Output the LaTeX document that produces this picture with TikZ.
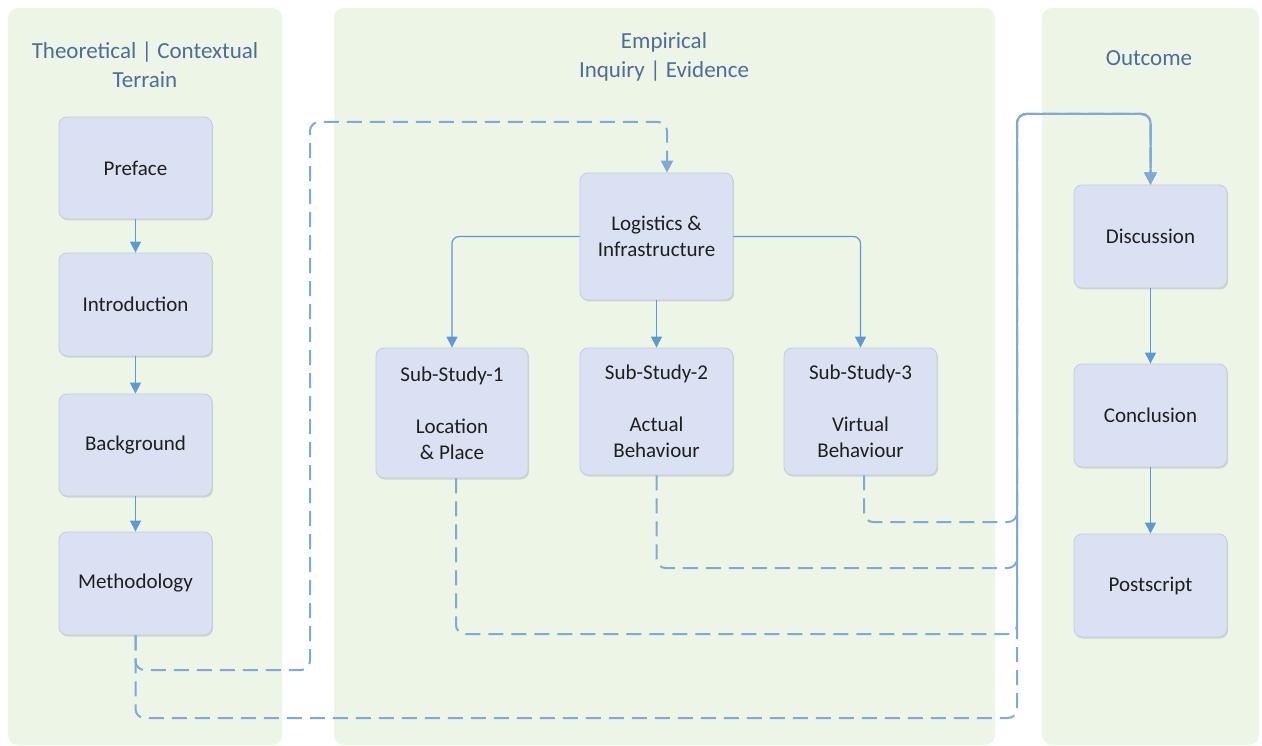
\documentclass[tikz,border=0pt]{standalone}
\usepackage{fontspec}
\setmainfont{Carlito}
\usetikzlibrary{arrows.meta,shadows}
\definecolor{panelfill}{HTML}{EDF5E7}
\definecolor{boxfill}{HTML}{DAE1F2}
\definecolor{boxline}{HTML}{C3CBDE}
\definecolor{titleblue}{HTML}{4E6D97}
\definecolor{linkblue}{HTML}{5B9BD5}
\definecolor{dashblue}{HTML}{7FA9D6}
\tikzset{
  panel/.style={fill=panelfill, draw=none, rounded corners=10pt},
  stage/.style={rectangle, rounded corners=8pt, fill=boxfill, draw=boxline, line width=0.8pt,
    align=center, font=\fontsize{21}{26}\selectfont, text=black!88,
    drop shadow={shadow xshift=1pt, shadow yshift=-1.5pt, opacity=0.12, fill=black}},
  heading/.style={align=center, font=\fontsize{23}{29}\selectfont, text=titleblue},
  flow/.style={draw=linkblue, line width=1.2pt, rounded corners=7pt,
    -{Triangle[length=11pt,width=11pt]}},
  feed/.style={draw=dashblue, line width=2pt, dash pattern=on 15pt off 8pt, rounded corners=9pt},
  feedarrow/.style={feed, -{Triangle[length=12pt,width=12pt]}}
}
\begin{document}
\begin{tikzpicture}[x=1pt,y=-1pt]
\useasboundingbox (0,0) rectangle (1262,746);
% column panels
\path[panel] (8,8) rectangle (282,745);
\path[panel] (334,8) rectangle (995,745);
\path[panel] (1042,8) rectangle (1259,745);

% column headings
\node[heading] (hleft) at (145,65) {Theoretical | Contextual\\Terrain};
\node[heading] (hmid) at (664,57) {Empirical\\Inquiry | Evidence};
\node[heading] (hright) at (1149,58) {Outcome};

% theoretical stages
\node[stage, minimum width=153pt, minimum height=102pt] (pref) at (135.5,168) {Preface};
\node[stage, minimum width=153pt, minimum height=103pt] (intro) at (135.5,304.5) {Introduction};
\node[stage, minimum width=153pt, minimum height=102pt] (back) at (135.5,445) {Background};
\node[stage, minimum width=153pt, minimum height=103pt] (meth) at (135.5,583.5) {Methodology};

% empirical stages
\node[stage, minimum width=153pt, minimum height=127pt] (log) at (656.5,236.5) {Logistics \&\\Infrastructure};
\node[stage, minimum width=152pt, minimum height=130pt] (ss1) at (452,413) {Sub-Study-1\\[26pt]Location\\\& Place};
\node[stage, minimum width=153pt, minimum height=127pt] (ss2) at (656.5,411.5) {Sub-Study-2\\[26pt]Actual\\Behaviour};
\node[stage, minimum width=153pt, minimum height=127pt] (ss3) at (860.5,411.5) {Sub-Study-3\\[26pt]Virtual\\Behaviour};

% outcome stages
\node[stage, minimum width=153pt, minimum height=103pt] (disc) at (1150.5,236.5) {Discussion};
\node[stage, minimum width=153pt, minimum height=103pt] (concl) at (1150.5,415.5) {Conclusion};
\node[stage, minimum width=153pt, minimum height=103pt] (post) at (1150.5,585.5) {Postscript};

% sequence arrows
\draw[flow] (pref) -- (intro);
\draw[flow] (intro) -- (back);
\draw[flow] (back) -- (meth);
\draw[flow] (disc) -- (concl);
\draw[flow] (concl) -- (post);
\draw[flow] (log.west) -| (ss1.north);
\draw[flow] (log) -- (ss2);
\draw[flow] (log.east) -| (ss3.north);

% routing points of the dashed feeds
\coordinate (mlow) at (1017,718);
\coordinate (mbend) at (310,670);
\coordinate (mup) at (310,122);
\coordinate (lin) at (667,122);
\coordinate (t1) at (1017,634);
\coordinate (t2) at (1017,568);
\coordinate (t3) at (1017,522);
\coordinate (ttop) at (1017,114);

% dashed feeds
\draw[feedarrow] (meth.south) |- (mbend) -- (mup) -- (lin) -- (lin |- log.north);
\draw[feedarrow] (meth.south) |- (mlow) -- (ttop) -| (disc.north);
\draw[feedarrow] ([xshift=4pt]ss1.south) |- (t1) -- (ttop) -| (disc.north);
\draw[feedarrow] (ss2.south) |- (t2) -- (ttop) -| (disc.north);
\draw[feedarrow] ([xshift=3.5pt]ss3.south) |- (t3) -- (ttop) -| (disc.north);
\end{tikzpicture}
\end{document}
